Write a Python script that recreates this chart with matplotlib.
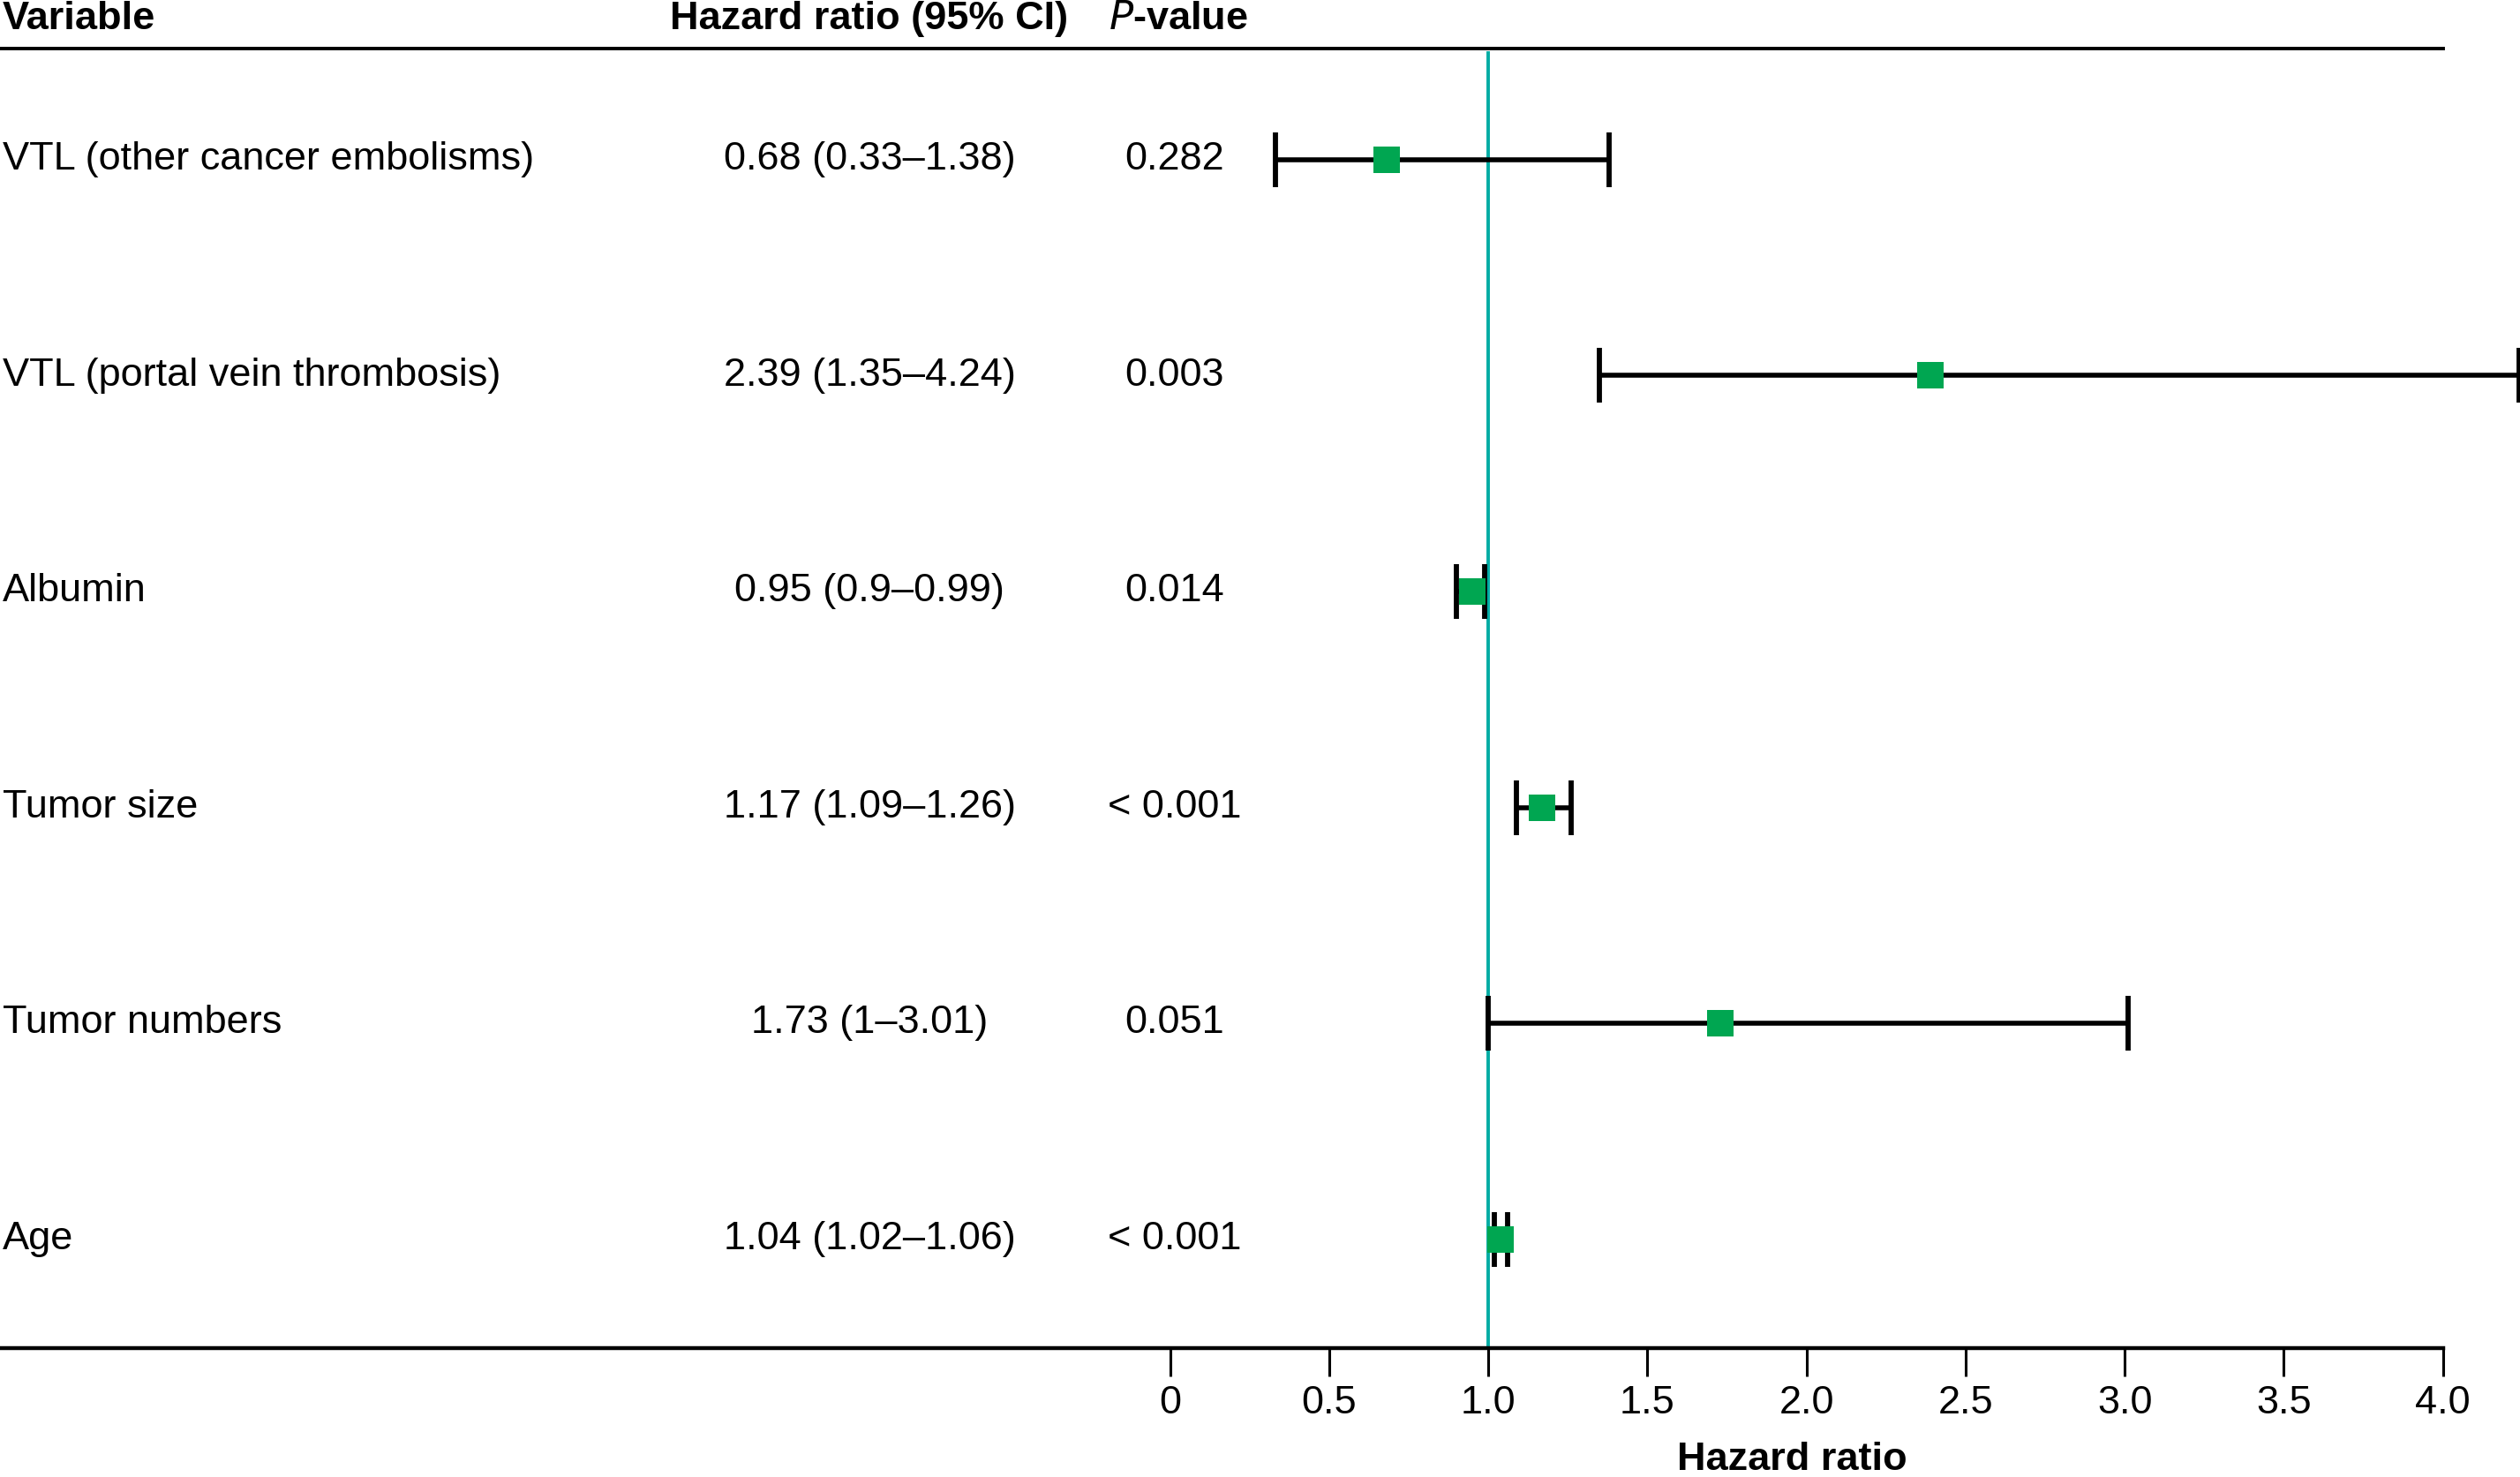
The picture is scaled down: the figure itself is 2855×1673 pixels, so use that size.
import numpy as np
import matplotlib
matplotlib.use('Agg')
import matplotlib.pyplot as plt
from matplotlib.transforms import blended_transform_factory

plt.rcParams['font.family'] = ['Liberation Sans', 'DejaVu Sans']

# Data
variables = ['VTL (other cancer embolisms)', 'VTL (portal vein thrombosis)', 'Albumin',
             'Tumor size', 'Tumor numbers', 'Age']
hr = [0.68, 2.39, 0.95, 1.17, 1.73, 1.04]
ci_low = [0.33, 1.35, 0.90, 1.09, 1.00, 1.02]
ci_high = [1.38, 4.24, 0.99, 1.26, 3.01, 1.06]
hr_text = ['0.68 (0.33\u20131.38)', '2.39 (1.35\u20134.24)', '0.95 (0.9\u20130.99)',
           '1.17 (1.09\u20131.26)', '1.73 (1\u20133.01)', '1.04 (1.02\u20131.06)']
p_text = ['0.282', '0.003', '0.014', '< 0.001', '0.051', '< 0.001']
xticks = [0, 0.5, 1.0, 1.5, 2.0, 2.5, 3.0, 3.5, 4.0]
xticklabels = ['0', '0.5', '1.0', '1.5', '2.0', '2.5', '3.0', '3.5', '4.0']

green = '#00a651'
teal = '#00aca4'
fs = 32.5

fig = plt.figure(figsize=(28.55, 16.74), dpi=100)
# axes spans the full width; x=0 sits at 728/1568 and x=4 at 1520/1568
ax = fig.add_axes([0, 1 - 840 / 920, 1, (840 - 31) / 920])
x0 = -728 / 792 * 4
x1 = 4 + 48 / 792 * 4
ax.set_xlim(x0, x1)
ax.set_ylim(len(variables) - 0.494, -0.513)

y = np.arange(len(variables))
hr = np.array(hr)
err = np.array([hr - np.array(ci_low), np.array(ci_high) - hr])

ax.axvline(1.0, ymin=0.003, ymax=0.997, color=teal, lw=2.8, zorder=1)
ax.errorbar(hr, y, xerr=err, fmt='none', ecolor='black', elinewidth=4.0,
            capsize=22, capthick=4.2, zorder=2, clip_on=False)
ax.plot(hr, y, 's', color=green, markersize=21, markeredgewidth=0, zorder=3, clip_on=False)

# spines: bottom from left edge to 4.0, top across to 4.0
for s in ['left', 'right']:
    ax.spines[s].set_visible(False)
ax.spines['bottom'].set_bounds(x0, 4.0)
ax.spines['top'].set_bounds(x0, 4.0)
ax.spines['bottom'].set_linewidth(3.2)
ax.spines['top'].set_linewidth(2.8)

ax.set_yticks([])
ax.set_xticks(xticks)
ax.set_xticklabels(xticklabels, fontsize=fs)
ax.tick_params(axis='x', length=23, width=2.2, pad=6, direction='out')

# text columns
tr = blended_transform_factory(fig.transFigure, ax.transData)
for i in range(len(variables)):
    ax.text(0.001, y[i] - 0.005, variables[i], transform=tr, fontsize=fs, ha='left', va='center')
    ax.text(541 / 1568, y[i] - 0.005, hr_text[i], transform=tr, fontsize=fs, ha='center', va='center')
    ax.text(731 / 1568, y[i] - 0.005, p_text[i], transform=tr, fontsize=fs, ha='center', va='center')

hy = 12 / 920
fig.text(0.001, 1 - hy, 'Variable', fontsize=fs, fontweight='bold', ha='left', va='center')
fig.text(541 / 1568, 1 - hy, 'Hazard ratio (95% CI)', fontsize=fs, fontweight='bold', ha='center', va='center')
fig.text(690 / 1568, 1 - hy, r'$\bf\it{P}$' + '-value', fontsize=fs, fontweight='bold', ha='left', va='center')
fig.text(1115 / 1568, 1 - 909 / 920, 'Hazard ratio', fontsize=fs, fontweight='bold', ha='center', va='center')

fig.savefig('out.png', dpi=100)
